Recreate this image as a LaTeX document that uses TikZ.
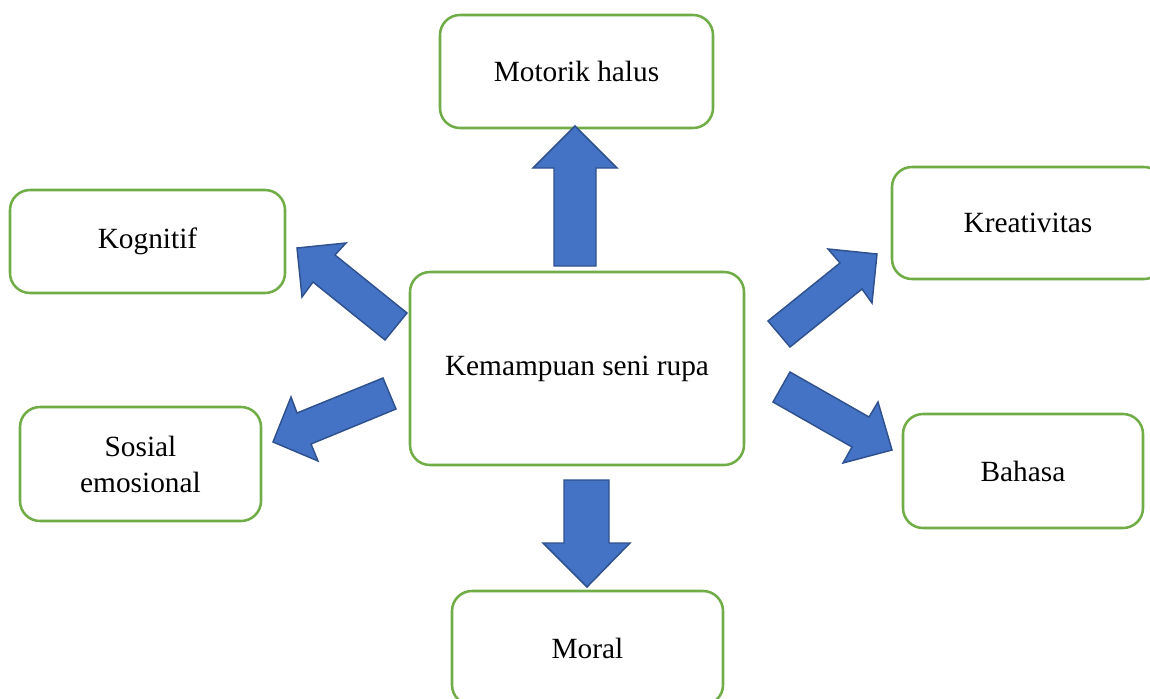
\documentclass[tikz,border=0pt]{standalone}
\usepackage{fontspec}
\setmainfont{Liberation Serif}
\definecolor{boxgreen}{HTML}{70AD47}
\definecolor{arrfill}{HTML}{4472C4}
\definecolor{arrdraw}{HTML}{2F528F}
\begin{document}
\begin{tikzpicture}[x=0.75pt,y=-0.75pt,
  bx/.style 2 args={draw=boxgreen, line width=1.9pt, rounded corners=15pt,
    minimum width=#1*0.75pt, minimum height=#2*0.75pt, align=center,
    inner sep=0pt, font=\fontsize{22}{27}\selectfont},
  blockarrow/.style={fill=arrfill, draw=arrdraw, line width=1.1pt, line join=miter}]
\useasboundingbox (0,0) rectangle (1150,699);
\clip (0,0) rectangle (1150,699);
% boxes
\node[bx={273}{113}] (motorik) at (576.5,71.5) {Motorik halus};
\node[bx={275}{103}] (kognitif) at (147.5,241.5) {Kognitif};
\node[bx={272}{112}] (kreativitas) at (1028,223) {Kreativitas};
\node[bx={334}{193}] (center) at (577,368.5) {Kemampuan seni rupa};
\node[bx={241}{114}] (sosial) at (140.5,464) {Sosial\\emosional};
\node[bx={240}{114}] (bahasa) at (1023,471) {Bahasa};
\node[bx={271}{114}] (moral) at (587.5,648) {Moral};
% block arrows
% up
\draw[blockarrow] (554,266) -- (554,168) -- (533,168) -- (575,126) -- (617,168) -- (596,168) -- (596,266) -- cycle;
% down
\draw[blockarrow] (564,480) -- (609,480) -- (609,543) -- (630,543) -- (587,587) -- (543,543) -- (564,543) -- cycle;
% kognitif
\draw[blockarrow] (297,248) -- (346,243) -- (335,255) -- (407,313) -- (385,340) -- (313,282) -- (302,297) -- cycle;
% sosial
\draw[blockarrow] (273,442) -- (291,397) -- (297,413) -- (383,378) -- (396,409) -- (311,444) -- (318,461) -- cycle;
% kreativitas
\draw[blockarrow] (877,254) -- (828,249) -- (840,263) -- (768,321) -- (790,347) -- (862,289) -- (872,303) -- cycle;
% bahasa
\draw[blockarrow] (790,372) -- (869,417) -- (878,402) -- (892,450) -- (843,463) -- (852,447) -- (773,402) -- cycle;
\end{tikzpicture}
\end{document}
